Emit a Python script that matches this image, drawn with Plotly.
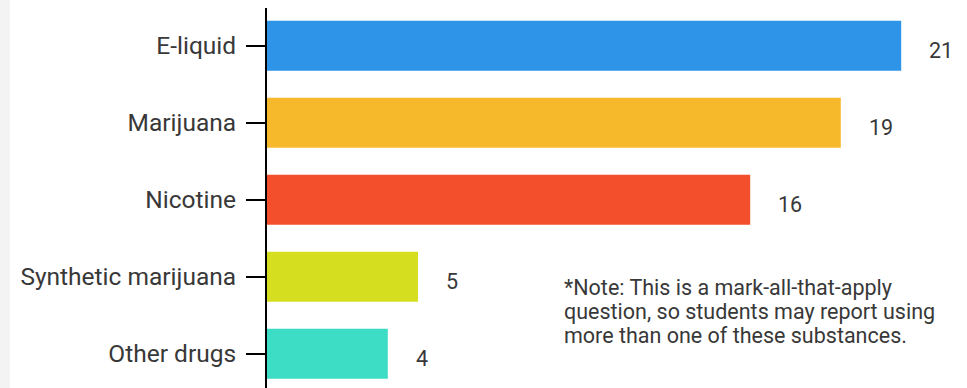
import plotly.graph_objects as go

categories = ["E-liquid", "Marijuana", "Nicotine", "Synthetic marijuana", "Other drugs"]
values = [21, 19, 16, 5, 4]
colors = ["#2E94E8", "#F7B92C", "#F44F2C", "#D5DF20", "#3DDCC5"]
note_lines = ["*Note: This is a mark-all-that-apply",
              "question, so students may report using",
              "more than one of these substances."]

FONT = "Roboto"
TXT = "#383838"
W, H = 967, 388
L, R, T, B = 267, 0, 8, 0
px_per_unit = 30.2
plot_w = W - L - R
plot_h = H - T - B

fig = go.Figure()
fig.add_trace(go.Bar(
    x=values, y=categories, orientation="h",
    marker=dict(color=colors, line=dict(width=0)),
    width=0.65, hoverinfo="skip",
))

for c, v in zip(categories, values):
    fig.add_annotation(x=v, y=c, text=str(v), showarrow=False,
                       xanchor="left", xshift=26, yshift=-5,
                       font=dict(family=FONT, size=21.5, color=TXT))

for i, line in enumerate(note_lines):
    fig.add_annotation(xref="paper", yref="paper", x=(565 - L) / plot_w,
                       y=1 - (287 + 24 * i - T) / plot_h,
                       text=line, showarrow=False, xanchor="left", yanchor="middle",
                       align="left", xshift=-3,
                       font=dict(family=FONT, size=21.5, color=TXT))

# left page strip
fig.add_shape(type="rect", xref="paper", yref="paper",
              x0=-L / plot_w, x1=-(L - 10) / plot_w, y0=-0.1, y1=1.1,
              fillcolor="#f3f3f3", line=dict(width=0), layer="below")

fig.update_layout(
    width=W, height=H,
    margin=dict(l=L, r=R, t=T, b=B, autoexpand=False),
    paper_bgcolor="white", plot_bgcolor="white",
    showlegend=False,
    font=dict(family=FONT, color=TXT),
    xaxis=dict(visible=False, range=[0, plot_w / px_per_unit], fixedrange=True),
    yaxis=dict(
        autorange=False, range=[-0.49 + 380 / 77, -0.49],
        categoryorder="array", categoryarray=categories,
        showline=True, linecolor="black", linewidth=2,
        ticks="outside", ticklen=19, tickwidth=2, tickcolor="black",
        ticklabelstandoff=5, automargin=False,
        tickfont=dict(family=FONT, size=24.5, color=TXT),
        showgrid=False, zeroline=False, fixedrange=True,
    ),
)

fig.write_html("out.html")
